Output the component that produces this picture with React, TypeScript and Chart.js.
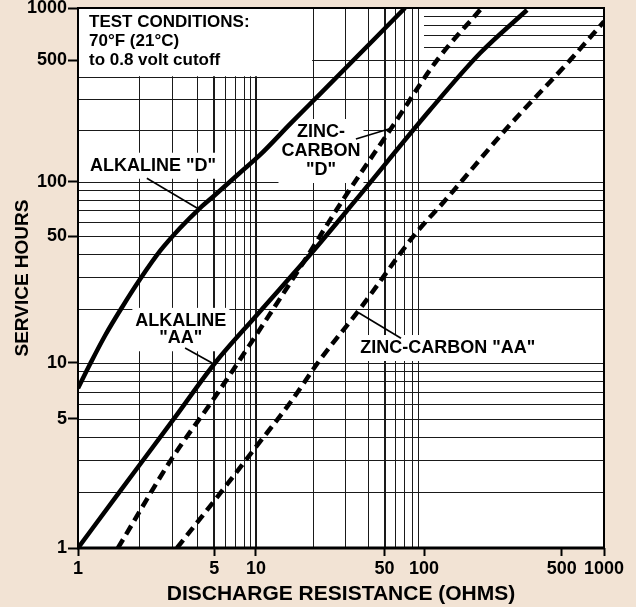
import React, { useEffect, useRef } from 'react';
import { Chart, registerables, LogarithmicScale } from 'chart.js';

Chart.register(...registerables);

// ---------------- data ----------------
const ALK_D_OHMS = [1, 1.15, 1.36, 1.66, 2.04, 2.59, 3.29, 4.18, 5.07, 7.58, 10.5, 15.1, 21.8, 71.3];
const ALK_D_HOURS = [7.3, 9.9, 14.1, 20.4, 29.1, 41.6, 55.7, 71.8, 84.8, 113, 143, 215, 320, 1000];

const ALK_AA_OHMS = [1, 1.62, 3.06, 5.07, 10, 20.7, 34.4, 107, 189, 328];
const ALK_AA_HOURS = [1, 2.03, 5, 10, 18.2, 43.2, 79.6, 259, 551, 974];

const ZC_D_OHMS = [1.58, 3, 5.07, 9.46, 17.7, 29.2, 57.2, 116, 189];
const ZC_D_HOURS = [1, 3.07, 6.55, 13.4, 35.7, 79.6, 207, 502, 977];

const ZC_AA_OHMS = [3.17, 5.07, 10, 15.1, 21.8, 35.8, 86, 125, 259, 573, 1000];
const ZC_AA_HOURS = [1, 1.82, 3.52, 6.08, 10.4, 19.6, 52.3, 77.5, 204, 500, 836];

const TICK_VALUES = [1, 5, 10, 50, 100, 500, 1000];

const X_GRID = [2, 3, 4, 5, 6, 7, 8, 9, 10, 20, 30, 40, 50, 60, 70, 80, 90];
const X_GRID_BOLD = [5, 10, 50];
const Y_GRID_FULL = [2, 3, 4, 5, 6, 7, 8, 9, 10, 20, 30, 40, 50, 60, 70, 80, 90, 100, 200, 300, 400, 500];
const Y_GRID_PARTIAL = [600, 700, 800, 900];

const TEST_LINES = ['TEST CONDITIONS:', '70°F (21°C)', 'to 0.8 volt cutoff'];

const CURVE_LABELS = [
  { lines: ['ALKALINE "D"'], at: [2.38, 124], lh: 19, lead: [[2.21, 105], [4.02, 71.8]] },
  { lines: ['ZINC-', 'CARBON', '"D"'], at: [22.1, 150.7], lh: 19, lead: [[34.4, 176.6], [57.2, 204.4]] },
  { lines: ['ALKALINE', '"AA"'], at: [3.32, 15.3], lh: 17.4, lead: [[3.49, 12.1], [4.87, 10]] },
  { lines: ['ZINC-CARBON "AA"'], at: [131, 12.1], lh: 19, lead: [[35.8, 18.9], [66.7, 13.7]] },
];

// ---------------- axis calibration (the drawing's log paper is not uniform) ----------------
type Warp = { decades: number[]; mantissa: number[] | null };
const WARPS: Record<string, Warp> = {
  x: { decades: [0, 0.3384, 0.6578, 1], mantissa: [0, 0.34, 0.53, 0.666, 0.765, 0.826, 0.88, 0.93, 0.967, 1] },
  y: { decades: [0, 0.3426, 0.6778, 1], mantissa: null },
};

function mantFrac(m: number, tbl: number[] | null) {
  const lm = Math.log10(m);
  if (!tbl) return lm;
  const k = Math.min(8, Math.max(0, Math.floor(m) - 1));
  const l0 = Math.log10(k + 1), l1 = Math.log10(k + 2);
  const t = (lm - l0) / (l1 - l0);
  return tbl[k] + t * (tbl[k + 1] - tbl[k]);
}
function mantInv(f: number, tbl: number[] | null) {
  if (!tbl || f < 0 || f > 1) return Math.pow(10, f);
  let k = 0;
  while (k < 8 && f > tbl[k + 1]) k++;
  const t = (f - tbl[k]) / (tbl[k + 1] - tbl[k]);
  const l0 = Math.log10(k + 1), l1 = Math.log10(k + 2);
  return Math.pow(10, l0 + t * (l1 - l0));
}
function toFrac(v: number, w: Warp) {
  const n = w.decades.length - 1;
  let d = Math.floor(Math.log10(v) + 1e-9);
  d = Math.max(0, Math.min(n - 1, d));
  const m = v / Math.pow(10, d);
  const mf = m < 1 || m > 10 ? Math.log10(m) : mantFrac(m, w.mantissa);
  return w.decades[d] + mf * (w.decades[d + 1] - w.decades[d]);
}
function fromFrac(f: number, w: Warp) {
  const n = w.decades.length - 1;
  let d = 0;
  while (d < n - 1 && f > w.decades[d + 1]) d++;
  const mf = (f - w.decades[d]) / (w.decades[d + 1] - w.decades[d]);
  return Math.pow(10, d) * mantInv(mf, w.mantissa);
}

class WarpedLogScale extends LogarithmicScale {
  static id = 'warpedLog';
  static defaults = {};
  getPixelForValue(value: any) {
    if (value === undefined || value === null || isNaN(value) || value <= 0) return NaN;
    const w = WARPS[(this as any).id];
    return (this as any).getPixelForDecimal(toFrac(value, w));
  }
  getValueForPixel(pixel: number) {
    const w = WARPS[(this as any).id];
    return fromFrac((this as any).getDecimalForPixel(pixel), w);
  }
}
Chart.register(WarpedLogScale as any);

const FONT_FAMILY = '"Liberation Sans", Arial, Helvetica, sans-serif';
const BG = '#f2e3d4';

const zip = (xs: number[], ys: number[]) => xs.map((x, i) => ({ x, y: ys[i] }));

const decorPlugin = {
  id: 'decor',
  beforeDraw(chart: any) {
    const { ctx, chartArea: a } = chart;
    ctx.save();
    ctx.fillStyle = '#ffffff';
    ctx.fillRect(a.left, a.top, a.right - a.left, a.bottom - a.top);
    ctx.restore();
  },
  beforeDatasetsDraw(chart: any) {
    const { ctx, chartArea: a } = chart;
    const xs = chart.scales.x;
    const ys = chart.scales.y;
    const X = (v: number) => xs.getPixelForValue(v);
    const Y = (v: number) => ys.getPixelForValue(v);
    ctx.save();
    ctx.strokeStyle = '#1a1a1a';
    // vertical grid
    for (const v of X_GRID) {
      const bold = X_GRID_BOLD.includes(v);
      const p = bold ? Math.round(X(v)) : Math.round(X(v)) + 0.5;
      ctx.lineWidth = bold ? 2 : 1;
      ctx.beginPath();
      ctx.moveTo(p, a.top);
      ctx.lineTo(p, a.bottom);
      ctx.stroke();
    }
    // horizontal grid
    ctx.lineWidth = 1;
    for (const v of Y_GRID_FULL) {
      const p = Math.round(Y(v)) + 0.5;
      ctx.beginPath();
      ctx.moveTo(a.left, p);
      ctx.lineTo(a.right, p);
      ctx.stroke();
    }
    for (const v of Y_GRID_PARTIAL) {
      const p = Math.round(Y(v)) + 0.5;
      ctx.beginPath();
      ctx.moveTo(X(100), p);
      ctx.lineTo(a.right, p);
      ctx.stroke();
    }

    // test conditions box
    const bx0 = X(1), bx1 = X(20), by0 = Y(1000), by1 = Y(400);
    ctx.fillStyle = '#ffffff';
    ctx.fillRect(bx0, by0, bx1 - bx0 - 1, by1 - by0 - 1);
    ctx.fillStyle = '#000';
    ctx.font = `bold 17px ${FONT_FAMILY}`;
    ctx.textAlign = 'left';
    ctx.textBaseline = 'middle';
    TEST_LINES.forEach((t, i) => ctx.fillText(t, bx0 + 11, by0 + 14 + i * 19));

    // curve labels
    ctx.font = `bold 18px ${FONT_FAMILY}`;
    ctx.textAlign = 'center';
    for (const lab of CURVE_LABELS) {
      const cx = X(lab.at[0]);
      const cy = Y(lab.at[1]);
      const n = lab.lines.length;
      const wMax = Math.max(...lab.lines.map((t) => ctx.measureText(t).width));
      const w = wMax + 6;
      const h = (n - 1) * lab.lh + 26;
      ctx.fillStyle = '#ffffff';
      ctx.fillRect(cx - w / 2, cy - h / 2, w, h);
      ctx.fillStyle = '#000';
      lab.lines.forEach((t, i) => ctx.fillText(t, cx, cy - ((n - 1) * lab.lh) / 2 + i * lab.lh));
      ctx.lineWidth = 1.6;
      ctx.strokeStyle = '#000';
      ctx.beginPath();
      ctx.moveTo(X(lab.lead[0][0]), Y(lab.lead[0][1]));
      ctx.lineTo(X(lab.lead[1][0]), Y(lab.lead[1][1]));
      ctx.stroke();
    }
    ctx.restore();
  },
  afterDatasetsDraw(chart: any) {
    const { ctx, chartArea: a } = chart;
    ctx.save();
    ctx.strokeStyle = '#000';
    ctx.lineWidth = 2;
    ctx.strokeRect(a.left, a.top, a.right - a.left, a.bottom - a.top);
    ctx.lineWidth = 3;
    ctx.beginPath();
    ctx.moveTo(a.left - 1, a.bottom);
    ctx.lineTo(a.right + 1, a.bottom);
    ctx.stroke();
    ctx.restore();
  },
};

export default function App() {
  const ref = useRef<HTMLCanvasElement | null>(null);
  useEffect(() => {
    if (!ref.current) return;
    const tickFont = { family: FONT_FAMILY, weight: 'bold' as const, size: 18 };
    const solid = { borderColor: '#000', borderWidth: 4.5, pointRadius: 0, clip: 0, cubicInterpolationMode: 'monotone' as const, borderCapStyle: 'butt' as const };
    const dashed = { ...solid, borderDash: [10, 6] };
    const chart = new Chart(ref.current, {
      type: 'line',
      data: {
        datasets: [
          { label: 'Alkaline "D"', data: zip(ALK_D_OHMS, ALK_D_HOURS), ...solid },
          { label: 'Alkaline "AA"', data: zip(ALK_AA_OHMS, ALK_AA_HOURS), ...solid },
          { label: 'Zinc-Carbon "D"', data: zip(ZC_D_OHMS, ZC_D_HOURS), ...dashed },
          { label: 'Zinc-Carbon "AA"', data: zip(ZC_AA_OHMS, ZC_AA_HOURS), ...dashed },
        ] as any,
      },
      options: {
        animation: false,
        responsive: true,
        maintainAspectRatio: false,
        layout: { padding: { top: 8, right: 32, bottom: 0, left: 0 } },
        plugins: { legend: { display: false }, tooltip: { enabled: false } },
        scales: {
          x: {
            type: 'warpedLog' as any,
            min: 1,
            max: 1000,
            afterBuildTicks: (s: any) => { s.ticks = TICK_VALUES.map((v) => ({ value: v })); },
            afterFit: (s: any) => { s.height = 59; s.paddingLeft = 0; s.paddingRight = 0; },
            ticks: { autoSkip: false, maxRotation: 0, minRotation: 0, color: '#000', font: tickFont, padding: 2, callback: (v: any) => String(v) },
            grid: { display: true, drawOnChartArea: false, drawTicks: true, tickLength: 8, tickWidth: 2, tickColor: '#000' },
            border: { display: false },
            title: { display: true, text: 'DISCHARGE RESISTANCE (OHMS)', color: '#000', font: { family: FONT_FAMILY, weight: 'bold', size: 21 }, padding: { top: 0, bottom: 0 } },
          },
          y: {
            type: 'warpedLog' as any,
            min: 1,
            max: 1000,
            afterBuildTicks: (s: any) => { s.ticks = TICK_VALUES.map((v) => ({ value: v })); },
            afterFit: (s: any) => { s.width = 78; s.paddingTop = 0; s.paddingBottom = 0; },
            ticks: { autoSkip: false, color: '#000', font: tickFont, padding: 1, callback: (v: any) => String(v) },
            grid: { display: true, drawOnChartArea: false, drawTicks: true, tickLength: 10, tickWidth: 2, tickColor: '#000' },
            border: { display: false },
            title: { display: true, text: 'SERVICE HOURS', color: '#000', font: { family: FONT_FAMILY, weight: 'bold', size: 19 }, padding: { top: 11, bottom: 0 } },
          },
        } as any,
      },
      plugins: [decorPlugin as any],
    });
    return () => chart.destroy();
  }, []);

  return (
    <div style={{ position: 'fixed', left: 0, top: 0, width: 636, height: 607, background: BG }}>
      <canvas ref={ref} />
    </div>
  );
}
